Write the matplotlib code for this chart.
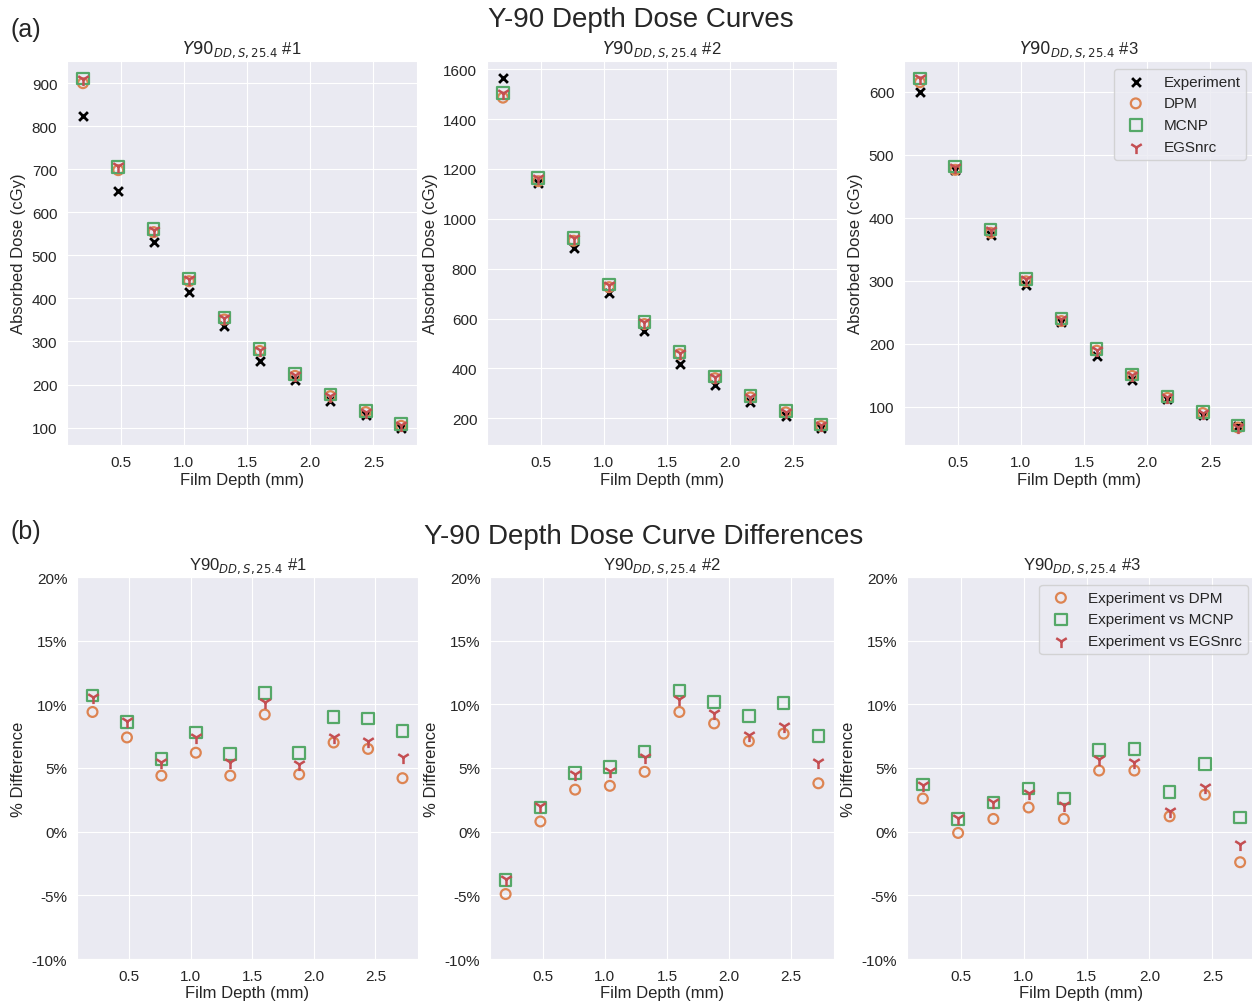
import numpy as np
import matplotlib
matplotlib.use("Agg")
import matplotlib.pyplot as plt
import seaborn as sns
from matplotlib.ticker import PercentFormatter

sns.set_style("darkgrid")
plt.rcParams['font.family'] = ['Liberation Sans', 'DejaVu Sans']
plt.rcParams['axes.unicode_minus'] = False

# film depth positions (mm)
depth = [0.20, 0.48, 0.76, 1.04, 1.32, 1.60, 1.88, 2.16, 2.44, 2.72]

# absorbed dose (cGy), one list per film
exp_1 = [823, 650, 531, 414, 336, 255, 211, 162, 128, 100]
dpm_1 = [900, 698, 554, 440, 351, 278, 220, 173, 136, 104]
mcnp_1 = [911, 706, 561, 446, 356, 283, 224, 177, 139, 108]
egs_1 = [910, 707, 560, 445, 354, 281, 222, 174, 137, 106]

exp_2 = [1563, 1142, 883, 701, 552, 418, 333, 265, 208, 163]
dpm_2 = [1486, 1151, 912, 726, 578, 457, 361, 284, 224, 169]
mcnp_2 = [1504, 1164, 924, 737, 587, 465, 367, 289, 229, 175]
egs_2 = [1505, 1165, 923, 735, 585, 461, 364, 285, 225, 172]

exp_3 = [599, 476, 372, 293, 234, 180, 142, 113, 87, 69]
dpm_3 = [615, 476, 376, 299, 236, 189, 149, 114, 90, 67]
mcnp_3 = [621, 481, 381, 303, 240, 192, 151, 116, 92, 70]
egs_3 = [621, 481, 381, 302, 239, 190, 150, 115, 90, 68]

# % difference experiment vs simulation
d_dpm_1 = [9.4, 7.4, 4.4, 6.2, 4.4, 9.2, 4.5, 7.0, 6.5, 4.2]
d_mcnp_1 = [10.7, 8.6, 5.7, 7.8, 6.1, 10.9, 6.2, 9.0, 8.9, 7.9]
d_egs_1 = [10.6, 8.7, 5.5, 7.4, 5.5, 10.2, 5.3, 7.4, 7.1, 5.9]

d_dpm_2 = [-4.9, 0.8, 3.3, 3.6, 4.7, 9.4, 8.5, 7.1, 7.7, 3.8]
d_mcnp_2 = [-3.8, 1.9, 4.6, 5.1, 6.3, 11.1, 10.2, 9.1, 10.1, 7.5]
d_egs_2 = [-3.7, 2.0, 4.5, 4.8, 5.9, 10.4, 9.3, 7.6, 8.3, 5.5]

d_dpm_3 = [2.6, -0.1, 1.0, 1.9, 1.0, 4.8, 4.8, 1.2, 2.9, -2.4]
d_mcnp_3 = [3.7, 1.0, 2.3, 3.4, 2.6, 6.4, 6.5, 3.1, 5.3, 1.1]
d_egs_3 = [3.7, 1.1, 2.3, 3.0, 2.1, 5.7, 5.5, 1.6, 3.5, -1.0]

dose = [(exp_1, dpm_1, mcnp_1, egs_1), (exp_2, dpm_2, mcnp_2, egs_2), (exp_3, dpm_3, mcnp_3, egs_3)]
diffs = [(d_dpm_1, d_mcnp_1, d_egs_1), (d_dpm_2, d_mcnp_2, d_egs_2), (d_dpm_3, d_mcnp_3, d_egs_3)]

c_dpm = "#DD8452"
c_mcnp = "#55A868"
c_egs = "#C44E52"

W, H = 1252, 1004
fig = plt.figure(figsize=(W / 100, H / 100), dpi=100)


def box(l, r, t, b):
    return [l / W, 1 - b / H, (r - l) / W, (b - t) / H]


top_boxes = [box(67, 417, 62, 446), box(487, 837, 62, 446), box(904, 1254, 62, 446)]
bot_boxes = [box(77, 418, 578, 960), box(490, 834, 578, 960), box(907, 1256, 578, 960)]

for i in range(3):
    ax = fig.add_axes(top_boxes[i])
    e, d, m, g = dose[i]
    ax.scatter(depth, e, marker="x", color="black", s=40, linewidths=2, label="Experiment", zorder=3)
    ax.scatter(depth, d, marker="o", facecolors="none", edgecolors=c_dpm, s=50, linewidths=1.6, label="DPM", zorder=3)
    ax.scatter(depth, m, marker="s", facecolors="none", edgecolors=c_mcnp, s=70, linewidths=1.6, label="MCNP", zorder=3)
    ax.scatter(depth, g, marker="1", color=c_egs, s=90, linewidths=1.8, label="EGSnrc", zorder=3)
    ax.set_title(r"$Y90_{DD,S,25.4}$ #%d" % (i + 1), fontsize=12, color=".15")
    ax.set_xlabel("Film Depth (mm)", fontsize=12, labelpad=2)
    ax.set_ylabel("Absorbed Dose (cGy)", fontsize=12)
    ax.tick_params(labelsize=11)
    ax.set_xticks([0.5, 1.0, 1.5, 2.0, 2.5])
    if i == 2:
        ax.legend(loc="upper right", fontsize=11, frameon=True)

for i in range(3):
    ax = fig.add_axes(bot_boxes[i])
    d, m, g = diffs[i]
    ax.scatter(depth, d, marker="o", facecolors="none", edgecolors=c_dpm, s=50, linewidths=1.6, label="Experiment vs DPM", zorder=3)
    ax.scatter(depth, m, marker="s", facecolors="none", edgecolors=c_mcnp, s=70, linewidths=1.6, label="Experiment vs MCNP", zorder=3)
    ax.scatter(depth, g, marker="1", color=c_egs, s=90, linewidths=1.8, label="Experiment vs EGSnrc", zorder=3)
    ax.set_title(r"Y90$_{DD,S,25.4}$ #%d" % (i + 1), fontsize=12, color=".15")
    ax.set_ylim(-10, 20)
    ax.set_yticks([-10, -5, 0, 5, 10, 15, 20])
    ax.yaxis.set_major_formatter(PercentFormatter(decimals=0))
    ax.set_xticks([0.5, 1.0, 1.5, 2.0, 2.5])
    ax.set_xlabel("Film Depth (mm)", fontsize=12, labelpad=2)
    ax.set_ylabel("% Difference", fontsize=12)
    ax.tick_params(labelsize=11)
    if i == 2:
        ax.legend(loc="upper right", fontsize=11, frameon=True)

fig.text(0.512, 0.98, "Y-90 Depth Dose Curves", ha="center", va="center", fontsize=20, color=".15")
fig.text(0.514, 0.465, "Y-90 Depth Dose Curve Differences", ha="center", va="center", fontsize=20, color=".15")
fig.text(0.008, 0.97, "(a)", ha="left", va="center", fontsize=18)
fig.text(0.008, 0.47, "(b)", ha="left", va="center", fontsize=18)

fig.savefig("out.png", dpi=100)
